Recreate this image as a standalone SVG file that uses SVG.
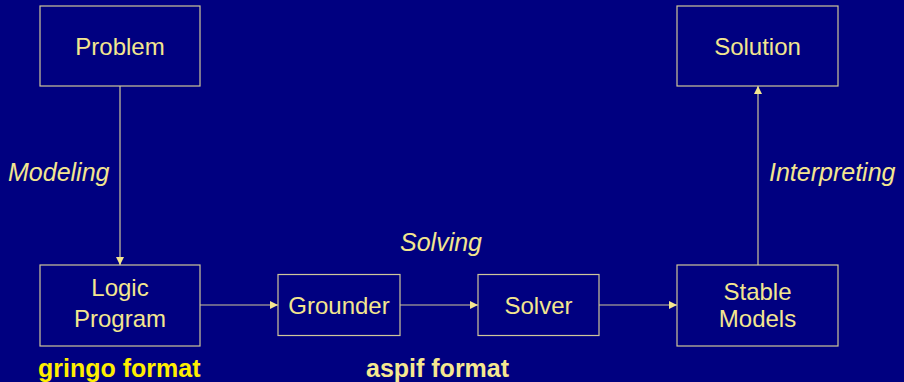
<svg xmlns="http://www.w3.org/2000/svg" width="904" height="382" viewBox="0 0 904 382">
<style>
.box{fill:none;stroke:#cfc69a;stroke-width:1.2}
.t{font-family:"Liberation Sans",Arial,sans-serif;font-size:24px;fill:#f3e68f;text-anchor:middle}
.i{font-family:"Liberation Sans",Arial,sans-serif;font-size:25px;font-style:italic;fill:#f3e68f}
.b{font-family:"Liberation Sans",Arial,sans-serif;font-size:25px;font-weight:bold}
.c{stroke:#cfc69a;stroke-width:1.2;fill:none;marker-end:url(#ah)}
</style>
<defs>
<marker id="ah" viewBox="0 0 10 10" refX="10" refY="5" markerWidth="8" markerHeight="8" markerUnits="userSpaceOnUse" orient="auto">
<path d="M0,0 L10,5 L0,10 Z" fill="#f3e68f"/>
</marker>
</defs>
<rect width="904" height="382" fill="#000080"/>
<g id="connectors">
<line class="c" x1="120" y1="86" x2="120" y2="265"/>
<line class="c" x1="200" y1="305" x2="278" y2="305"/>
<line class="c" x1="400" y1="305" x2="478" y2="305"/>
<line class="c" x1="599" y1="305" x2="677" y2="305"/>
<line class="c" x1="758" y1="265" x2="758" y2="86"/>
</g>
<g id="problem">
<rect class="box" x="40" y="6" width="160" height="80"/>
<text class="t" x="120" y="55">Problem</text>
</g>
<g id="solution">
<rect class="box" x="677" y="6" width="161" height="80"/>
<text class="t" x="757.5" y="55">Solution</text>
</g>
<g id="logic-program">
<rect class="box" x="40" y="265" width="160" height="81"/>
<text class="t" x="120" y="296">Logic</text>
<text class="t" x="120" y="327">Program</text>
</g>
<g id="grounder">
<rect class="box" x="278" y="274.5" width="122" height="61"/>
<text class="t" x="339" y="314">Grounder</text>
</g>
<g id="solver">
<rect class="box" x="478" y="274.5" width="121" height="61"/>
<text class="t" x="538.5" y="314">Solver</text>
</g>
<g id="stable-models">
<rect class="box" x="677" y="265" width="161" height="81"/>
<text class="t" x="757.5" y="300">Stable</text>
<text class="t" x="757.5" y="327">Models</text>
</g>
<g id="labels">
<text class="i" x="8" y="181">Modeling</text>
<text class="i" x="769" y="181">Interpreting</text>
<text class="i" x="400" y="251">Solving</text>
<text class="b" x="38" y="377" fill="#ffee00">gringo format</text>
<text class="b" x="366" y="377" fill="#f6e890">aspif format</text>
</g>
</svg>
